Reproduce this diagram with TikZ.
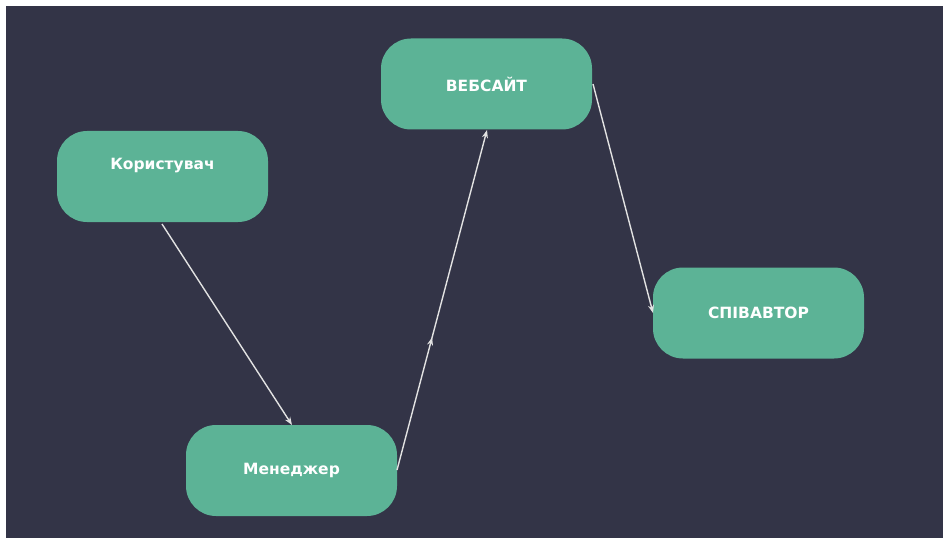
\documentclass[tikz,border=0pt]{standalone}
\usepackage{fontspec}
\setmainfont{DejaVu Sans}
\usetikzlibrary{arrows.meta,decorations.markings}
\definecolor{bgdark}{HTML}{333447}
\definecolor{pill}{HTML}{5CB396}
\definecolor{wire}{HTML}{E2E2E2}
\begin{document}
\begin{tikzpicture}[x=1pt,y=1pt,
  labeltext/.style={text=white, font=\fontsize{15.5}{17}\selectfont\bfseries},
  pillbox/.style={fill=pill, draw=none, rounded corners=30pt,
    minimum width=211pt, minimum height=91pt, inner sep=0pt, labeltext},
  link/.style={draw=wire, line width=1.4pt, -{Stealth[length=8pt,width=6pt]}},
  midtip/.style={postaction={decorate}, decoration={markings,
    mark=at position 0.39 with {\arrow{Stealth[length=8pt,width=6pt]}}}}]
\useasboundingbox (0,0) rectangle (943,542);
\fill[white] (0,0) rectangle (943,542);
\fill[bgdark] (6,4) rectangle (943,536);
% nodes
\node[pillbox] (user) at (162.5,365.5) {};
\node[labeltext] (usertext) at (162.5,376) {Користувач};
\node[pillbox] (site) at (486.5,458) {ВЕБСАЙТ};
\node[pillbox] (mgr) at (291.5,71.5) {Менеджер};
\node[pillbox] (coauth) at (758.5,229) {СПІВАВТОР};
% connectors
\coordinate (uA) at (162,318);
\coordinate (mA) at (292,117);
\coordinate (mB) at (397,72);
\coordinate (sA) at (487,412);
\coordinate (sB) at (593,458);
\coordinate (cA) at (653,229);
\draw[link] (uA) -- (mA);
\draw[link, midtip] (mB) -- (sA);
\draw[link] (sB) -- (cA);
\end{tikzpicture}
\end{document}
